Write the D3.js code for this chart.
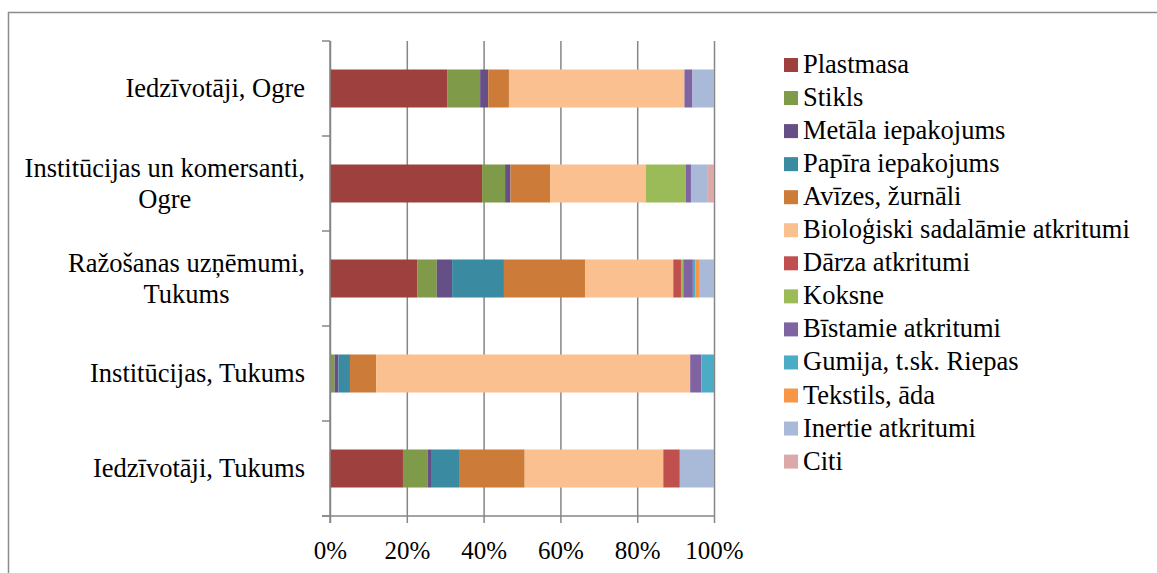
<!DOCTYPE html>
<html>
<head>
<meta charset="utf-8">
<script src="https://cdn.jsdelivr.net/npm/d3@7"></script>
<style>
  html, body { margin: 0; padding: 0; background: #fff; }
  svg { display: block; font-family: "Liberation Serif", "Times New Roman", serif; }
</style>
</head>
<body>
<svg id="chart" width="1157" height="573"></svg>
<script>
// Categories, top to bottom (multi-line labels split on "\n")
const categories = [
  "Iedzīvotāji, Ogre",
  "Institūcijas un komersanti,\nOgre",
  "Ražošanas uzņēmumi,\nTukums",
  "Institūcijas, Tukums",
  "Iedzīvotāji, Tukums"
];

// Waste fractions, shares in % per category (same order as categories)
const plastmasa   = [30.5, 39.6, 22.7,  0.0, 19.0];
const stikls      = [ 8.6,  6.0,  5.1,  1.2,  6.4];
const metals      = [ 2.1,  1.4,  4.0,  1.0,  0.9];
const papirs      = [ 0.0,  0.0, 13.5,  3.0,  7.3];
const avizes      = [ 5.4, 10.3, 21.1,  6.8, 17.1];
const bio         = [45.7, 24.9, 23.0, 81.8, 36.1];
const darza       = [ 0.0,  0.0,  2.0,  0.0,  4.3];
const koksne      = [ 0.0, 10.5,  0.6,  0.0,  0.0];
const bistamie    = [ 2.1,  1.3,  2.5,  2.9,  0.0];
const gumija      = [ 0.0,  0.0,  0.7,  3.3,  0.0];
const tekstils    = [ 0.0,  0.0,  0.9,  0.0,  0.0];
const inertie     = [ 5.6,  4.4,  3.9,  0.0,  8.9];
const citi        = [ 0.0,  1.6,  0.0,  0.0,  0.0];

const seriesNames = [
  "Plastmasa", "Stikls", "Metāla iepakojums", "Papīra iepakojums",
  "Avīzes, žurnāli", "Bioloģiski sadalāmie atkritumi", "Dārza atkritumi",
  "Koksne", "Bīstamie atkritumi", "Gumija, t.sk. Riepas", "Tekstils, āda",
  "Inertie atkritumi", "Citi"
];
const seriesValues = [plastmasa, stikls, metals, papirs, avizes, bio, darza,
  koksne, bistamie, gumija, tekstils, inertie, citi];
const seriesColors = [
  "#9e413e", "#7f9a48", "#664e86", "#3a8aa2", "#cc7b38", "#fac090", "#c0504d",
  "#9bbb59", "#8064a2", "#4bacc6", "#f79646", "#a9b9d8", "#dca9a8"
];

const tickValues = [0, 0.2, 0.4, 0.6, 0.8, 1.0];
const tickLabels = ["0%", "20%", "40%", "60%", "80%", "100%"];

// Build a row table for d3.stack
const rows = categories.map((c, i) => {
  const r = { category: c };
  seriesNames.forEach((s, j) => { r[s] = seriesValues[j][i]; });
  return r;
});

const svg = d3.select("#chart");
const axisColor = "#868686";

// Outer frame
svg.append("rect")
  .attr("x", 8.5).attr("y", 12.5)
  .attr("width", 1200).attr("height", 620)
  .attr("fill", "none").attr("stroke", "#8c8c8c").attr("stroke-width", 1.5);

const plot = { left: 330, right: 714, top: 41, bottom: 516 };

const x = d3.scaleLinear().domain([0, 1]).range([plot.left, plot.right]);
const y = d3.scaleBand().domain(categories)
  .range([plot.top, plot.bottom])
  .paddingInner(0.6).paddingOuter(0.3);

// Vertical gridlines (extend below the axis as tick marks)
const grid = svg.append("g")
  .attr("transform", `translate(0,${plot.top})`)
  .call(d3.axisBottom(x).tickValues(tickValues)
    .tickSize(plot.bottom - plot.top + 7).tickFormat(""));
grid.select(".domain").remove();
grid.selectAll(".tick line").attr("stroke", axisColor).attr("stroke-width", 1.5);

// Stacked 100% bars
const stack = d3.stack().keys(seriesNames).offset(d3.stackOffsetExpand);
const stacked = stack(rows);

svg.append("g").selectAll("g")
  .data(stacked)
  .join("g")
  .attr("fill", (d, i) => seriesColors[i])
  .selectAll("rect")
  .data(d => d)
  .join("rect")
  .attr("x", d => x(d[0]))
  .attr("width", d => Math.max(0, x(d[1]) - x(d[0])))
  .attr("y", d => y(d.data.category))
  .attr("height", y.bandwidth());

// Bottom axis
const xAxis = svg.append("g")
  .attr("transform", `translate(0,${plot.bottom})`)
  .call(d3.axisBottom(x).tickValues(tickValues)
    .tickFormat((d, i) => tickLabels[i]).tickSize(0).tickPadding(25));
xAxis.select(".domain").remove();
xAxis.selectAll("text")
  .attr("font-family", "Liberation Serif, Times New Roman, serif")
  .attr("font-size", 25).attr("fill", "#000");
svg.append("line")
  .attr("x1", plot.left - 8).attr("x2", plot.right)
  .attr("y1", plot.bottom).attr("y2", plot.bottom)
  .attr("stroke", axisColor).attr("stroke-width", 1.5);

// Left axis: vertical line with ticks at category boundaries
svg.append("line")
  .attr("x1", plot.left).attr("x2", plot.left)
  .attr("y1", plot.top).attr("y2", plot.bottom + 7)
  .attr("stroke", axisColor).attr("stroke-width", 1.5);
const boundaries = d3.range(categories.length + 1)
  .map(i => y.range()[0] + i * y.step());
svg.append("g").selectAll("line")
  .data(boundaries)
  .join("line")
  .attr("x1", plot.left - 8).attr("x2", plot.left)
  .attr("y1", d => d).attr("y2", d => d)
  .attr("stroke", axisColor).attr("stroke-width", 1.5);

// Category labels (block right-aligned, lines centred within block)
const fontSize = 26.5, lineH = 31;
const labelRight = 305;
categories.forEach(c => {
  const lines = c.split("\n");
  const cy = y(c) + y.bandwidth() / 2;
  const t = svg.append("text")
    .attr("font-size", fontSize).attr("fill", "#000")
    .attr("text-anchor", "middle");
  lines.forEach((ln, k) => {
    t.append("tspan").text(ln)
      .attr("y", cy + (k - (lines.length - 1) / 2) * lineH + fontSize * 0.33);
  });
  let w = 0;
  t.selectAll("tspan").each(function () { w = Math.max(w, this.getComputedTextLength()); });
  t.selectAll("tspan").attr("x", labelRight - w / 2);
});

// Legend
const legend = svg.append("g").attr("transform", "translate(784,58)");
const item = legend.selectAll("g")
  .data(seriesNames)
  .join("g")
  .attr("transform", (d, i) => `translate(0,${i * 33.05})`);
item.append("rect")
  .attr("width", 14).attr("height", 14)
  .attr("fill", (d, i) => seriesColors[i]);
item.append("text")
  .attr("x", 19).attr("y", 15)
  .attr("font-size", fontSize).attr("fill", "#000")
  .text(d => d);
</script>
</body>
</html>
